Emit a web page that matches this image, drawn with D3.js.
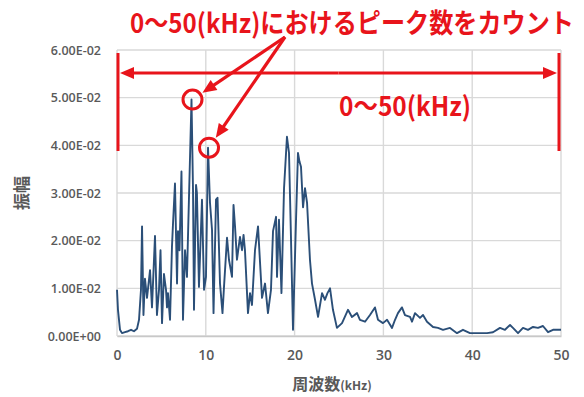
<!DOCTYPE html>
<html>
<head>
<meta charset="utf-8">
<script src="https://cdn.jsdelivr.net/npm/d3@7"></script>
<style>
  html, body { margin: 0; padding: 0; background: #fff; }
  svg { display: block; }
</style>
</head>
<body>
<svg id="chart" width="584" height="397"></svg>
<script>
// Frequency (kHz) of each spectrum sample
const freqKHz = [0, 0.11, 0.34, 0.56, 0.9, 1.24, 1.58, 1.91, 2.25, 2.48, 2.7, 2.82, 2.98, 3.15, 3.38, 3.72, 3.94, 4.28, 4.5, 4.73, 4.9, 5.07, 5.29, 5.52, 5.63, 5.74, 5.97, 6.19, 6.31, 6.53, 6.76, 6.87, 7.04, 7.26, 7.43, 7.66, 7.88, 8.1, 8.39, 8.56, 8.67, 8.9, 9.0, 9.23, 9.57, 9.8, 10.02, 10.25, 10.47, 10.7, 10.87, 11.15, 11.32, 11.6, 11.88, 12.05, 12.39, 12.61, 12.95, 13.12, 13.29, 13.51, 13.85, 14.08, 14.25, 14.41, 14.75, 14.98, 15.2, 15.54, 15.88, 16.33, 16.67, 17.0, 17.34, 17.57, 17.91, 18.02, 18.24, 18.52, 18.81, 19.14, 19.37, 19.59, 19.82, 20.16, 20.38, 20.55, 20.72, 20.95, 21.17, 21.4, 21.73, 21.96, 22.3, 22.64, 23.09, 23.42, 23.7, 23.99, 24.32, 24.77, 25.34, 26.01, 26.46, 27.03, 27.36, 27.93, 28.49, 29.05, 29.39, 29.95, 30.41, 30.97, 31.31, 31.64, 32.09, 32.43, 33.0, 33.22, 33.56, 34.12, 34.46, 34.91, 35.59, 36.15, 36.71, 37.5, 38.29, 38.96, 39.75, 40.54, 41.67, 42.34, 43.13, 43.69, 44.26, 44.59, 45.16, 45.72, 46.28, 46.85, 47.41, 47.97, 48.54, 49.1, 50.0];

// Amplitude at each frequency
const amplitude = [0.0097, 0.0055, 0.0013, 0.0006, 0.0008, 0.0010, 0.0013, 0.0010, 0.0015, 0.0034, 0.0097, 0.0230, 0.0044, 0.0120, 0.0080, 0.0138, 0.0060, 0.0210, 0.0044, 0.0097, 0.0180, 0.0027, 0.0130, 0.0097, 0.0060, 0.0090, 0.0034, 0.0187, 0.0237, 0.0320, 0.0110, 0.0220, 0.0180, 0.0345, 0.0034, 0.0180, 0.0124, 0.0286, 0.0496, 0.0307, 0.0055, 0.0317, 0.0300, 0.0103, 0.0286, 0.0097, 0.0124, 0.0395, 0.0280, 0.0223, 0.0048, 0.0286, 0.0290, 0.0110, 0.0048, 0.0103, 0.0206, 0.0160, 0.0124, 0.0275, 0.0230, 0.0160, 0.0208, 0.0180, 0.0212, 0.0180, 0.0048, 0.0090, 0.0065, 0.0180, 0.0230, 0.0080, 0.0110, 0.0048, 0.0097, 0.0220, 0.0250, 0.0124, 0.0244, 0.0090, 0.0310, 0.0418, 0.0384, 0.0208, 0.0013, 0.0244, 0.0384, 0.0366, 0.0355, 0.0270, 0.0310, 0.0280, 0.0160, 0.0110, 0.0076, 0.0040, 0.0090, 0.0076, 0.0090, 0.0100, 0.0055, 0.0017, 0.0027, 0.0055, 0.0040, 0.0048, 0.0034, 0.0030, 0.0044, 0.0060, 0.0034, 0.0027, 0.0034, 0.0017, 0.0034, 0.0048, 0.0060, 0.0044, 0.0040, 0.0030, 0.0048, 0.0038, 0.0044, 0.0030, 0.0019, 0.0017, 0.0013, 0.0017, 0.0006, 0.0013, 0.0006, 0.0006, 0.0006, 0.0008, 0.0017, 0.0013, 0.0023, 0.0017, 0.0006, 0.0017, 0.0013, 0.0019, 0.0017, 0.0021, 0.0008, 0.0013, 0.0013];

// Axis ticks and labels
const xTicks = [0, 10, 20, 30, 40, 50];
const yTicks = [0, 0.01, 0.02, 0.03, 0.04, 0.05, 0.06];
const yTickLabels = ["0.00E+00", "1.00E-02", "2.00E-02", "3.00E-02", "4.00E-02", "5.00E-02", "6.00E-02"];

// Text
const titleText = "0～50(kHz)におけるピーク数をカウント";
const rangeText = "0～50(kHz)";
const xTitleMain = "周波数";
const xTitleUnit = "(kHz)";
const yTitle = "振幅";

// Peaks that are circled
const markedPeaks = [[8.39, 0.0496], [10.25, 0.0395]];
const rangeKHz = [0, 50];

const red = "#e8141b";
const gray = "#595959";

const svg = d3.select("#chart");
const plot = { left: 117, right: 561, top: 50, bottom: 336 };

const x = d3.scaleLinear().domain([0, 50]).range([plot.left, plot.right]);
const y = d3.scaleLinear().domain([0, 0.06]).range([plot.bottom, plot.top]);

svg.append("rect").attr("width", 584).attr("height", 397).attr("fill", "#fff");

// Gridlines
const grid = svg.append("g").attr("stroke", "#d9d9d9").attr("stroke-width", 1.4);
grid.selectAll("line.h").data(yTicks).join("line")
  .attr("x1", plot.left).attr("x2", plot.right)
  .attr("y1", d => y(d)).attr("y2", d => y(d));
grid.selectAll("line.v").data(xTicks).join("line")
  .attr("x1", d => x(d)).attr("x2", d => x(d))
  .attr("y1", plot.top).attr("y2", plot.bottom);

// Axes (labels only; lines are drawn by the grid)
const xAxis = svg.append("g")
  .attr("transform", `translate(0,${plot.bottom})`)
  .call(d3.axisBottom(x).tickValues(xTicks).tickSize(0).tickPadding(14).tickFormat(d3.format("d")));
xAxis.select(".domain").attr("stroke", "#c8c8c8").attr("stroke-width", 1.4);
xAxis.selectAll("text")
  .attr("font-family", "'Open Sans', sans-serif").attr("font-weight", 600)
  .attr("font-size", 14).attr("fill", gray);

const yAxis = svg.append("g")
  .attr("transform", `translate(${plot.left},0)`)
  .call(d3.axisLeft(y).tickValues(yTicks).tickSize(0).tickPadding(16)
    .tickFormat((d, i) => yTickLabels[i]));
yAxis.select(".domain").remove();
yAxis.selectAll("text")
  .attr("font-family", "'Open Sans', sans-serif").attr("font-weight", 600)
  .attr("font-size", 12.5).attr("fill", gray);

// Axis titles
const xt = svg.append("text")
  .attr("x", 332).attr("y", 390)
  .attr("text-anchor", "middle")
  .attr("fill", gray).attr("font-family", "'Noto Sans CJK JP', sans-serif").attr("font-weight", 700);
xt.append("tspan").attr("font-size", 16).text(xTitleMain);
xt.append("tspan").attr("font-size", 12).text(xTitleUnit);

svg.append("text")
  .attr("transform", "translate(28,193) rotate(-90)")
  .attr("text-anchor", "middle")
  .attr("fill", gray).attr("font-family", "'Noto Sans CJK JP', sans-serif").attr("font-weight", 700)
  .attr("font-size", 17).text(yTitle);

// Spectrum line
const series = freqKHz.map((f, i) => [f, amplitude[i]]);
svg.append("path")
  .datum(series)
  .attr("fill", "none")
  .attr("stroke", "#2b4f78")
  .attr("stroke-width", 1.9)
  .attr("stroke-linejoin", "round")
  .attr("d", d3.line().x(d => x(d[0])).y(d => y(d[1])));

// Annotation: red range markers, arrows and circles
const ann = svg.append("g").attr("stroke", red).attr("fill", red);

function arrowHead(x1, y1, x2, y2, len, half) {
  const a = Math.atan2(y2 - y1, x2 - x1);
  const bx = x2 - len * Math.cos(a), by = y2 - len * Math.sin(a);
  const px = -Math.sin(a) * half, py = Math.cos(a) * half;
  return [[x2, y2], [bx + px, by + py], [bx - px, by - py]];
}
function arrow(x1, y1, x2, y2, len, half) {
  const a = Math.atan2(y2 - y1, x2 - x1);
  ann.append("line")
    .attr("x1", x1).attr("y1", y1)
    .attr("x2", x2 - (len - 2) * Math.cos(a)).attr("y2", y2 - (len - 2) * Math.sin(a))
    .attr("stroke-width", 3.2);
  ann.append("polygon").attr("stroke", "none")
    .attr("points", arrowHead(x1, y1, x2, y2, len, half).map(p => p.join(",")).join(" "));
}

const xL = x(rangeKHz[0]) + 1, xR = x(rangeKHz[1]) - 2;
[xL, xR].forEach(xx => {
  ann.append("line").attr("x1", xx).attr("x2", xx).attr("y1", 53).attr("y2", 151).attr("stroke-width", 3);
});
const yArrow = 73;
const midX = (xL + xR) / 2;
arrow(midX, yArrow, xL + 2, yArrow, 14, 6);
arrow(midX, yArrow, xR - 2, yArrow, 14, 6);

markedPeaks.forEach(([f, v]) => {
  ann.append("circle")
    .attr("cx", x(f) + 1).attr("cy", y(v))
    .attr("r", 9.5).attr("fill", "none").attr("stroke-width", 3);
});
const origin = [285, 37];
markedPeaks.forEach(([f, v]) => {
  const cx = x(f) + 1, cy = y(v);
  const a = Math.atan2(cy - origin[1], cx - origin[0]);
  const tipX = cx - 12 * Math.cos(a), tipY = cy - 12 * Math.sin(a);
  arrow(origin[0], origin[1], tipX, tipY, 14, 6);
});

// Red text (slightly tall, condensed lettering)
svg.append("text")
  .attr("transform", "translate(130,33) scale(1,1.12)")
  .attr("textLength", 444).attr("lengthAdjust", "spacingAndGlyphs")
  .attr("fill", red).attr("font-family", "'Noto Sans CJK JP', sans-serif").attr("font-weight", 700)
  .attr("font-size", 24).text(titleText);

svg.append("text")
  .attr("transform", "translate(339,116) scale(1,1.12)")
  .attr("textLength", 132).attr("lengthAdjust", "spacingAndGlyphs")
  .attr("fill", red).attr("font-family", "'Noto Sans CJK JP', sans-serif").attr("font-weight", 700)
  .attr("font-size", 24).text(rangeText);
</script>
</body>
</html>
